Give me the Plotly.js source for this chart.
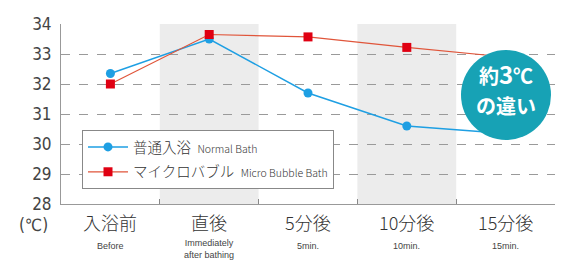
<!DOCTYPE html>
<html>
<head>
<meta charset="utf-8">
<script src="https://cdn.plot.ly/plotly-3.0.1.min.js"></script>
<style>html,body{margin:0;padding:0;background:#fff;}#chart{width:570px;height:263px;}</style>
</head>
<body>
<div id="chart"></div>
<script>
const catsJa = ["入浴前", "直後", "5分後", "10分後", "15分後"];
const catsEn = ["Before", "Immediately<br>after bathing", "5min.", "10min.", "15min."];
const normalBath = [32.35, 33.5, 31.7, 30.6, 30.35];
const microBubble = [32.0, 33.65, 33.57, 33.22, 32.9];
const seriesJa = ["普通入浴", "マイクロバブル"];
const seriesEn = ["Normal Bath", "Micro Bubble Bath"];
const shadedCats = [1, 3];
const yTicks = [28, 29, 30, 31, 32, 33, 34];
const badgeLines = ["約<span style='font-size:24px'>3</span>℃", "の違い"];

const jp = "'Noto Sans CJK JP', 'Noto Sans', sans-serif";
const numFont = "'Liberation Sans Narrow', 'DejaVu Sans Condensed', 'Liberation Sans', sans-serif";

const traces = [
  {
    x: catsJa, y: normalBath, type: "scatter", mode: "lines+markers", legendgroup: "a",
    name: seriesJa[0] + "  <span style='font-size:10.5px'>" + seriesEn[0] + "</span>",
    line: {color: "#1e9fe3", width: 1.5},
    marker: {symbol: "circle", size: 9, color: "#1e9fe3"}
  },
  {
    x: catsJa, y: microBubble, type: "scatter", mode: "lines+markers", legendgroup: "b",
    name: seriesJa[1] + "  <span style='font-size:10.5px'>" + seriesEn[1] + "</span>",
    line: {color: "#e0553a", width: 1.2},
    marker: {symbol: "square", size: 9, color: "#e00012"}
  }
];

const px = v => (v - 61) / 494;
const py = v => (204 - v) / 180;

const shapes = shadedCats.map(i => ({
  type: "rect", xref: "x", yref: "paper", x0: i - 0.5, x1: i + 0.5, y0: 0, y1: 1,
  fillcolor: "#ececec", line: {width: 0}, layer: "below"
}));
shapes.push({
  type: "circle", xref: "paper", yref: "paper",
  x0: px(506 - 45), x1: px(506 + 45), y0: py(95 + 45), y1: py(95 - 45),
  fillcolor: "#17a2b5", line: {width: 0}, layer: "above"
});
[[68, 94], [95, 121]].forEach((b, i) => {
  shapes.push({
    type: "rect", xref: "paper", yref: "paper",
    x0: px(466), x1: px(546), y0: py(b[1]), y1: py(b[0]),
    fillcolor: "rgba(0,0,0,0)", line: {width: 0}, layer: "above",
    label: {text: "<b>" + badgeLines[i] + "</b>", textposition: "middle center",
      font: {family: jp, size: 20, color: "#ffffff"}}
  });
});

const annotations = [];
catsJa.forEach((c, i) => {
  annotations.push({x: c, y: 0, xref: "x", yref: "paper", yshift: -18, text: c, showarrow: false,
    font: {family: jp, size: 18, color: "#333", weight: 300}, yanchor: "middle"});
  annotations.push({x: c, y: 0, xref: "x", yref: "paper", yshift: catsEn[i].includes("<br>") ? -45 : -42,
    text: catsEn[i], showarrow: false, yanchor: "middle",
    font: {family: "'Liberation Sans', Arial, sans-serif", size: 9, color: "#444"}});
});
annotations.push({x: 0, xref: "paper", xshift: -44, y: 0, yref: "paper", yshift: -21, text: "(℃)", showarrow: false,
  font: {family: numFont, size: 17, color: "#444"}, xanchor: "left", yanchor: "middle"});

const layout = {
  width: 570, height: 263,
  margin: {l: 61, r: 15, t: 24, b: 59},
  paper_bgcolor: "#ffffff", plot_bgcolor: "#ffffff",
  showlegend: true,
  legend: {
    x: px(82), y: py(130), xanchor: "left", yanchor: "top",
    bgcolor: "#ffffff", bordercolor: "#888", borderwidth: 1,
    font: {family: jp, size: 14.5, color: "#333", weight: 300}, itemwidth: 40, tracegroupgap: 3
  },
  xaxis: {
    type: "category", range: [-0.5, 4.5], showticklabels: false,
    tickson: "boundaries", ticks: "inside", ticklen: 5, tickcolor: "#888",
    showline: true, linecolor: "#999", linewidth: 1, showgrid: false, zeroline: false, fixedrange: true
  },
  yaxis: {
    range: [28, 34], tickvals: yTicks, ticktext: yTicks.map(String),
    showline: true, linecolor: "#999", linewidth: 1,
    showgrid: true, gridcolor: "#9a9a9a", griddash: "dash", gridwidth: 1,
    zeroline: false, ticks: "", ticklabelstandoff: 5,
    tickfont: {family: numFont, size: 17, color: "#444"}, fixedrange: true
  },
  shapes: shapes,
  annotations: annotations
};

Plotly.newPlot("chart", traces, layout, {displayModeBar: false, staticPlot: true});
</script>
</body>
</html>
